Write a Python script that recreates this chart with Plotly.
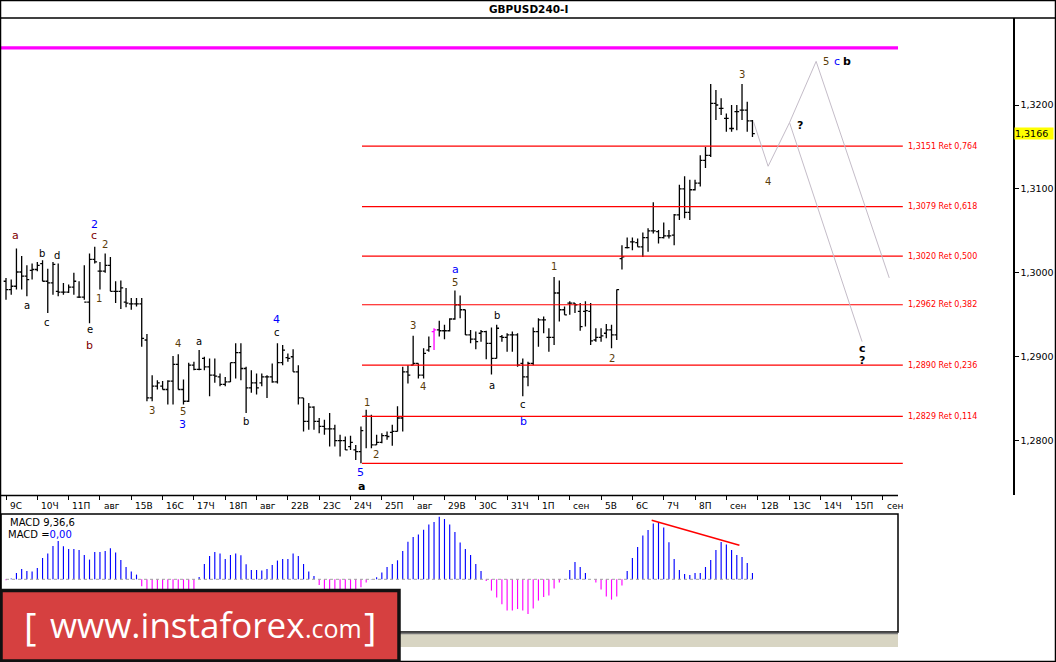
import plotly.graph_objects as go

W, H = 1056, 662

title_text = "GBPUSD240-I"
day_labels = ["9С", "10Ч", "11П", "авг", "15В", "16С", "17Ч", "18П", "авг", "22В", "23С", "24Ч",
              "25П", "авг", "29В", "30С", "31Ч", "1П", "сен", "5В", "6С", "7Ч", "8П", "сен",
              "12В", "13С", "14Ч", "15П", "сен"]
BARS_PER_DAY = 6

bar_open = [
    1.2990, 1.2980, 1.2984, 1.3001, 1.2996, 1.3003, 1.3004, 1.3011, 1.2990, 1.2988,
    1.2978, 1.2977, 1.2977, 1.2983, 1.2971, 1.2971, 1.2965, 1.3016, 1.3002, 1.3002,
    1.3009, 1.2978, 1.2978, 1.2965, 1.2963, 1.2963, 1.2963, 1.2920, 1.2851, 1.2865,
    1.2865, 1.2861, 1.2871, 1.2891, 1.2861, 1.2847, 1.2890, 1.2885, 1.2898, 1.2888,
    1.2878, 1.2876, 1.2867, 1.2870, 1.2893, 1.2905, 1.2886, 1.2863, 1.2869, 1.2869,
    1.2876, 1.2876, 1.2870, 1.2893, 1.2899, 1.2900, 1.2882, 1.2851, 1.2823, 1.2840,
    1.2823, 1.2817, 1.2814, 1.2814, 1.2800, 1.2800, 1.2793, 1.2789, 1.2787, 1.2829,
    1.2829, 1.2795, 1.2798, 1.2806, 1.2810, 1.2811, 1.2827, 1.2882, 1.2890, 1.2892,
    1.2878, 1.2908, 1.2930, 1.2932, 1.2931, 1.2931, 1.2945, 1.2962, 1.2956, 1.2926,
    1.2921, 1.2928, 1.2930, 1.2916, 1.2898, 1.2924, 1.2923, 1.2926, 1.2926, 1.2892,
    1.2876, 1.2892, 1.2930, 1.2944, 1.2923, 1.2923, 1.2976, 1.2956, 1.2964, 1.2964,
    1.2954, 1.2954, 1.2954, 1.2920, 1.2923, 1.2928, 1.2932, 1.2926, 1.3017, 1.3030,
    1.3037, 1.3036, 1.3031, 1.3042, 1.3050, 1.3049, 1.3042, 1.3044, 1.3045, 1.3069,
    1.3100, 1.3072, 1.3099, 1.3107, 1.3134, 1.3140, 1.3202, 1.3196, 1.3184, 1.3172,
    1.3192, 1.3194, 1.3194, 1.3181]
bar_high = [
    1.2994, 1.2992, 1.3029, 1.3020, 1.3009, 1.3011, 1.3013, 1.3015, 1.3005, 1.3013,
    1.3011, 1.2988, 1.2986, 1.3000, 1.2990, 1.3009, 1.3023, 1.3031, 1.3013, 1.3023,
    1.3019, 1.2990, 1.2991, 1.2982, 1.2970, 1.2970, 1.2970, 1.2927, 1.2878, 1.2872,
    1.2871, 1.2872, 1.2901, 1.2903, 1.2873, 1.2893, 1.2894, 1.2908, 1.2900, 1.2898,
    1.2898, 1.2880, 1.2876, 1.2893, 1.2916, 1.2916, 1.2888, 1.2884, 1.2880, 1.2880,
    1.2878, 1.2892, 1.2916, 1.2914, 1.2904, 1.2909, 1.2890, 1.2851, 1.2845, 1.2841,
    1.2827, 1.2825, 1.2833, 1.2819, 1.2807, 1.2805, 1.2806, 1.2795, 1.2817, 1.2837,
    1.2831, 1.2807, 1.2809, 1.2811, 1.2819, 1.2841, 1.2888, 1.2890, 1.2925, 1.2892,
    1.2910, 1.2924, 1.2934, 1.2943, 1.2938, 1.2946, 1.2979, 1.2973, 1.2956, 1.2932,
    1.2930, 1.2932, 1.2931, 1.2935, 1.2938, 1.2926, 1.2928, 1.2930, 1.2928, 1.2898,
    1.2894, 1.2935, 1.2946, 1.2948, 1.2934, 1.2995, 1.2991, 1.2960, 1.2966, 1.2964,
    1.2964, 1.2966, 1.2964, 1.2934, 1.2934, 1.2939, 1.2938, 1.2980, 1.3033, 1.3042,
    1.3042, 1.3041, 1.3048, 1.3053, 1.3084, 1.3051, 1.3060, 1.3051, 1.3070, 1.3105,
    1.3115, 1.3111, 1.3111, 1.3140, 1.3150, 1.3225, 1.3218, 1.3208, 1.3190, 1.3200,
    1.3200, 1.3225, 1.3204, 1.3182]
bar_low = [
    1.2968, 1.2974, 1.2980, 1.2980, 1.2972, 1.2992, 1.3002, 1.2990, 1.2952, 1.2974,
    1.2972, 1.2974, 1.2976, 1.2974, 1.2970, 1.2968, 1.2940, 1.3011, 1.2980, 1.3000,
    1.2978, 1.2964, 1.2957, 1.2959, 1.2956, 1.2960, 1.2912, 1.2847, 1.2847, 1.2861,
    1.2861, 1.2843, 1.2843, 1.2861, 1.2843, 1.2846, 1.2884, 1.2884, 1.2884, 1.2853,
    1.2869, 1.2865, 1.2865, 1.2870, 1.2874, 1.2872, 1.2833, 1.2857, 1.2855, 1.2865,
    1.2851, 1.2869, 1.2868, 1.2890, 1.2894, 1.2882, 1.2843, 1.2811, 1.2813, 1.2813,
    1.2809, 1.2807, 1.2793, 1.2793, 1.2781, 1.2789, 1.2789, 1.2777, 1.2773, 1.2791,
    1.2791, 1.2795, 1.2797, 1.2801, 1.2794, 1.2811, 1.2811, 1.2868, 1.2890, 1.2874,
    1.2874, 1.2906, 1.2908, 1.2924, 1.2921, 1.2930, 1.2944, 1.2946, 1.2926, 1.2916,
    1.2909, 1.2918, 1.2897, 1.2879, 1.2898, 1.2918, 1.2906, 1.2906, 1.2888, 1.2853,
    1.2865, 1.2890, 1.2912, 1.2928, 1.2906, 1.2914, 1.2942, 1.2950, 1.2950, 1.2952,
    1.2931, 1.2936, 1.2914, 1.2918, 1.2918, 1.2922, 1.2910, 1.2920, 1.3004, 1.3029,
    1.3027, 1.3031, 1.3019, 1.3025, 1.3047, 1.3035, 1.3041, 1.3041, 1.3033, 1.3063,
    1.3065, 1.3063, 1.3098, 1.3103, 1.3125, 1.3138, 1.3182, 1.3188, 1.3168, 1.3168,
    1.3170, 1.3182, 1.3168, 1.3162]
bar_close = [
    1.2980, 1.2984, 1.3001, 1.2996, 1.2992, 1.3004, 1.3009, 1.2990, 1.2988, 1.3010,
    1.2977, 1.2977, 1.2983, 1.2990, 1.2971, 1.2965, 1.3016, 1.3013, 1.3002, 1.3009,
    1.2978, 1.2978, 1.2982, 1.2964, 1.2963, 1.2963, 1.2922, 1.2851, 1.2865, 1.2869,
    1.2861, 1.2871, 1.2891, 1.2861, 1.2847, 1.2890, 1.2885, 1.2885, 1.2888, 1.2878,
    1.2877, 1.2867, 1.2870, 1.2893, 1.2905, 1.2886, 1.2863, 1.2869, 1.2863, 1.2876,
    1.2876, 1.2870, 1.2893, 1.2908, 1.2898, 1.2882, 1.2851, 1.2823, 1.2840, 1.2823,
    1.2817, 1.2814, 1.2814, 1.2800, 1.2800, 1.2789, 1.2798, 1.2787, 1.2812, 1.2829,
    1.2795, 1.2798, 1.2806, 1.2805, 1.2811, 1.2827, 1.2882, 1.2878, 1.2892, 1.2878,
    1.2904, 1.2912, 1.2932, 1.2931, 1.2931, 1.2945, 1.2962, 1.2956, 1.2926, 1.2921,
    1.2918, 1.2930, 1.2916, 1.2898, 1.2934, 1.2923, 1.2926, 1.2926, 1.2890, 1.2876,
    1.2892, 1.2930, 1.2944, 1.2944, 1.2923, 1.2976, 1.2956, 1.2950, 1.2964, 1.2962,
    1.2936, 1.2955, 1.2919, 1.2923, 1.2925, 1.2932, 1.2926, 1.2980, 1.3019, 1.3030,
    1.3037, 1.3031, 1.3042, 1.3050, 1.3050, 1.3042, 1.3044, 1.3044, 1.3069, 1.3100,
    1.3072, 1.3099, 1.3107, 1.3134, 1.3140, 1.3202, 1.3200, 1.3196, 1.3184, 1.3172,
    1.3192, 1.3194, 1.3181, 1.3166]
highlighted_bars = [82]

macd_hist = [
    -1.0, 0.7, 6.3, 10.3, 8.3, 7.7, 11.3, 21.3, 25.7, 33.3,
    38.3, 33.0, 30.3, 30.3, 29.3, 24.3, 19.7, 27.3, 27.3, 28.3,
    31.0, 26.7, 19.3, 12.3, 7.7, 4.7, -7.0, -12.0, -16.0, -19.0,
    -21.0, -21.0, -19.0, -18.0, -17.0, -14.0, -10.0, 2.3, 15.3, 23.3,
    27.3, 25.7, 20.3, 24.3, 25.7, 24.0, 15.0, 9.3, 9.3, 8.7,
    10.3, 14.3, 18.7, 20.3, 20.3, 25.7, 23.3, 15.3, 7.7, 3.3,
    -5.7, -11.0, -14.0, -16.0, -16.0, -15.0, -13.0, -11.0, -8.0, -3.3,
    0.3, 2.0, 6.7, 12.3, 15.3, 19.0, 28.3, 37.5, 42.3, 44.7,
    49.5, 54.7, 57.3, 62.5, 60.3, 54.7, 47.3, 36.7, 30.3, 24.3,
    15.3, 8.3, -1.7, -11.3, -18.3, -25.0, -31.3, -31.3, -29.7, -31.3,
    -34.7, -29.3, -21.3, -17.7, -16.3, -9.3, -3.3, 0.0, 9.3, 17.3,
    12.3, 6.3, 0.0, -3.3, -10.3, -17.3, -20.3, -17.3, -6.3, 8.3,
    21.3, 32.3, 43.7, 49.3, 55.7, 57.3, 51.7, 37.0, 20.3, 9.3,
    5.3, 4.3, 6.3, 6.3, 12.3, 19.3, 29.3, 37.3, 34.7, 29.3,
    24.3, 22.3, 16.3, 6.3]
macd_trend_bars = [123.7, 140.5]
macd_trend_vals = [59.0, 34.0]

fib_ratios = [0.114, 0.236, 0.382, 0.500, 0.618, 0.764]
fib_prices = [1.2829, 1.2890, 1.2962, 1.3020, 1.3079, 1.3151]
fib_base_price = 1.2773
fib_start_bar = 68.2
fib_end_bar = 171.8
top_line_price = 1.3268
last_price = 1.3166
price_ticks = [1.2800, 1.2900, 1.3000, 1.3100, 1.3200]

proj_main_bars = [143.2, 146.0, 150.1, 155.2, 169.2]
proj_main_prices = [1.3180, 1.3127, 1.3179, 1.3252, 1.2994]
proj_alt_bars = [150.1, 164.0]
proj_alt_prices = [1.3179, 1.2918]

MAR, BLU, BLK, DRK = "#800000", "#0000ff", "#000000", "#5a3c0a"
wave_text = ["a", "c", "2", "2", "b", "d", "a", "c", "1", "e", "b", "4", "a", "3", "5", "3", "b",
             "4", "c", "5", "a", "1", "2", "3", "4", "a", "5", "b", "a", "c", "b", "1", "2", "3",
             "4", "?", "5", "c", "b", "c", "?"]
wave_bar = [1.9, 16.9, 16.9, 19.0, 6.95, 9.8, 4.0, 7.9, 17.9, 16.0, 16.0, 33.0, 37.0, 28.0, 33.9,
            33.85, 46.0, 51.9, 52.0, 68.0, 68.1, 69.1, 70.9, 78.0, 79.8, 86.1, 86.1, 94.1, 93.1,
            99.1, 99.1, 105.0, 116.1, 141.05, 146.0, 152.1, 157.1, 159.1, 161.2, 164.0, 164.0]
wave_price = [1.3044, 1.3044, 1.3058, 1.3034, 1.3023, 1.3021, 1.2961, 1.2941, 1.2969, 1.2932,
              1.2914, 1.2916, 1.2918, 1.2836, 1.2835, 1.2819, 1.2823, 1.2945, 1.2929, 1.2762,
              1.2746, 1.2845, 1.2783, 1.2937, 1.2864, 1.3004, 1.2989, 1.2949, 1.2866, 1.2843,
              1.2823, 1.3008, 1.2898, 1.3236, 1.3109, 1.3176, 1.3252, 1.3252, 1.3252, 1.2910,
              1.2896]
wave_color = [MAR, MAR, BLU, DRK, BLK, BLK, BLK, BLK, DRK, BLK, MAR, DRK, BLK, DRK, DRK, BLU, BLK,
              BLU, BLK, BLU, BLK, DRK, DRK, DRK, DRK, BLU, DRK, BLK, BLK, BLK, BLU, DRK, DRK, DRK,
              DRK, BLK, DRK, BLU, BLK, BLK, BLK]
wave_bold = [t in ("?",) for t in wave_text]
wave_bold[20] = True
wave_bold[38] = True
wave_bold[39] = True

# ---------------- layout helpers (pixel -> paper) ----------------
def px(x):
    return x / W


def py(y):
    return 1 - y / H


BAR0_PX, BAR_PX = 6.0, 5.22
PRICE_LEFT, PRICE_RIGHT, PRICE_TOP, PRICE_BOTTOM = 1, 1013, 18, 495
MACD_RIGHT, MACD_TOP, MACD_BOTTOM, MACD_ZERO = 898, 514, 632, 579.3
PX_PER_UNIT = 8392.0


def bar_at(pxx):
    return (pxx - BAR0_PX) / BAR_PX


def price_at(pyy):
    return 1.32 - (pyy - 105) / PX_PER_UNIT


FONT = "DejaVu Sans"
n = len(bar_open)
idx = list(range(n))

fig = go.Figure()

# main OHLC bars
main_idx = [i for i in idx if i not in highlighted_bars]
fig.add_trace(go.Ohlc(
    x=main_idx,
    open=[bar_open[i] for i in main_idx], high=[bar_high[i] for i in main_idx],
    low=[bar_low[i] for i in main_idx], close=[bar_close[i] for i in main_idx],
    increasing=dict(line=dict(color="black")), decreasing=dict(line=dict(color="black")),
    line=dict(width=1.3), tickwidth=0.45, xaxis="x", yaxis="y", hoverinfo="skip"))
for hb in highlighted_bars:
    xs = [hb - 1, hb, hb + 1]
    fig.add_trace(go.Ohlc(
        x=xs, open=[None, bar_open[hb], None], high=[None, bar_high[hb], None],
        low=[None, bar_low[hb], None], close=[None, bar_close[hb], None],
        increasing=dict(line=dict(color="#ff00ff")), decreasing=dict(line=dict(color="#ff00ff")),
        line=dict(width=1.3), tickwidth=0.45, xaxis="x", yaxis="y", hoverinfo="skip"))

# top magenta line
fig.add_trace(go.Scatter(x=[bar_at(PRICE_LEFT), bar_at(MACD_RIGHT)], y=[top_line_price] * 2,
                         mode="lines", line=dict(color="#ff00ff", width=3.2),
                         xaxis="x", yaxis="y", hoverinfo="skip"))

# fib lines
for lvl in [fib_base_price] + fib_prices:
    fig.add_trace(go.Scatter(x=[fib_start_bar, fib_end_bar], y=[lvl, lvl], mode="lines",
                             line=dict(color="#ff0000", width=1.2), xaxis="x", yaxis="y",
                             hoverinfo="skip"))

# projection paths
fig.add_trace(go.Scatter(x=proj_main_bars, y=proj_main_prices, mode="lines",
                         line=dict(color="#c4bcc8", width=1), xaxis="x", yaxis="y",
                         hoverinfo="skip"))
fig.add_trace(go.Scatter(x=proj_alt_bars, y=proj_alt_prices, mode="lines",
                         line=dict(color="#c4bcc8", width=1), xaxis="x", yaxis="y",
                         hoverinfo="skip"))

# MACD histogram
fig.add_trace(go.Bar(x=idx, y=macd_hist,
                     marker=dict(color=["#0000ff" if v >= 0 else "#ff00ff" for v in macd_hist],
                                 line=dict(width=0)),
                     width=0.22, xaxis="x2", yaxis="y2", hoverinfo="skip"))
fig.add_trace(go.Scatter(x=[0, n - 1], y=[0, 0], mode="lines",
                         line=dict(color="#a0a0a0", width=1, dash="dot"),
                         xaxis="x2", yaxis="y2", hoverinfo="skip"))
fig.add_trace(go.Scatter(x=macd_trend_bars, y=macd_trend_vals, mode="lines",
                         line=dict(color="#ff0000", width=1.5), xaxis="x2", yaxis="y2",
                         hoverinfo="skip"))

shapes = []
# outer frame and title separator
shapes.append(dict(type="rect", xref="paper", yref="paper", x0=px(0.5), x1=px(W - 0.5),
                   y0=py(H - 0.5), y1=py(0.5), line=dict(color="black", width=1.5)))
shapes.append(dict(type="line", xref="paper", yref="paper", x0=0, x1=1,
                   y0=py(PRICE_TOP), y1=py(PRICE_TOP), line=dict(color="black", width=1.5)))
# bottom of price panel
shapes.append(dict(type="line", xref="paper", yref="paper", x0=px(PRICE_LEFT), x1=px(MACD_RIGHT),
                   y0=py(PRICE_BOTTOM + 0.5), y1=py(PRICE_BOTTOM + 0.5),
                   line=dict(color="black", width=1.5)))
# MACD panel frame
shapes.append(dict(type="rect", xref="paper", yref="paper", x0=px(PRICE_LEFT), x1=px(MACD_RIGHT),
                   y0=py(MACD_BOTTOM), y1=py(MACD_TOP), line=dict(color="black", width=1.5)))
# hatched strip below MACD
shapes.append(dict(type="rect", xref="paper", yref="paper", x0=px(PRICE_LEFT), x1=px(MACD_RIGHT),
                   y0=py(647), y1=py(633), fillcolor="#d8d5c3", line=dict(width=0), layer="below"))
shapes.append(dict(type="line", xref="paper", yref="paper", x0=px(PRICE_LEFT), x1=px(MACD_RIGHT),
                   y0=py(633.5), y1=py(633.5), line=dict(color="#777777", width=1.5)))
# logo banner
shapes.append(dict(type="rect", xref="paper", yref="paper", x0=px(1), x1=px(399),
                   y0=py(H - 1), y1=py(590.5), fillcolor="#d64040",
                   line=dict(color="#111111", width=3.5), layer="above"))

ann = []
ann.append(dict(text="<b>" + title_text + "</b>", xref="paper", yref="paper", x=px(528), y=py(9.5),
                showarrow=False, font=dict(family=FONT, size=10.5, color="black"),
                xanchor="center", yanchor="middle"))
for k, lab in enumerate(day_labels):
    ann.append(dict(text=lab, xref="x2", yref="paper", x=k * BARS_PER_DAY + 0.3, y=py(505.5),
                    showarrow=False, font=dict(family=FONT, size=9, color="black"),
                    xanchor="left", yanchor="middle"))
for r, lvl in zip(fib_ratios, fib_prices):
    t = ("%.4f Ret %.3f" % (lvl, r)).replace(".", ",")
    ann.append(dict(text=t, xref="x", yref="y", x=bar_at(906), y=lvl, showarrow=False,
                    font=dict(family=FONT, size=8, color="#ff0000"), xanchor="left",
                    yanchor="middle"))
ann.append(dict(text=("%.4f" % last_price).replace(".", ","), xref="paper", yref="y",
                x=px(1014), y=last_price, showarrow=False, bgcolor="#ffff00", width=38,
                height=11, align="left", font=dict(family=FONT, size=9.5, color="black"),
                xanchor="left", yanchor="middle", borderpad=0))
ann.append(dict(text="MACD 9,36,6", xref="paper", yref="paper", x=px(8), y=py(522),
                showarrow=False, font=dict(family=FONT, size=10, color="black"),
                xanchor="left", yanchor="middle"))
ann.append(dict(text="MACD =<span style='color:#0000ff'>0,00</span>", xref="paper", yref="paper",
                x=px(6), y=py(534.5), showarrow=False,
                font=dict(family=FONT, size=10, color="black"), xanchor="left", yanchor="middle"))
for t, b, p, c, bold in zip(wave_text, wave_bar, wave_price, wave_color, wave_bold):
    size = 11 if (bold or c == BLU or c == MAR) else 10
    ann.append(dict(text=("<b>%s</b>" % t) if bold else t, xref="x", yref="y", x=b, y=p,
                    showarrow=False, font=dict(family=FONT, size=size, color=c),
                    xanchor="center", yanchor="middle"))
# logo text
LOGO_FONT = "Open Sans"
ann.append(dict(text="[", xref="paper", yref="paper", x=px(22), y=py(626), showarrow=False,
                font=dict(family=LOGO_FONT, size=38, color="white"), xanchor="left",
                yanchor="middle"))
ann.append(dict(text="www.instaforex", xref="paper", yref="paper", x=px(48), y=py(624),
                showarrow=False, font=dict(family=LOGO_FONT, size=35, color="white"),
                xanchor="left", yanchor="middle"))
ann.append(dict(text=".com", xref="paper", yref="paper", x=px(303), y=py(628), showarrow=False,
                font=dict(family=LOGO_FONT, size=25, color="white"), xanchor="left",
                yanchor="middle"))
ann.append(dict(text="]", xref="paper", yref="paper", x=px(362), y=py(626), showarrow=False,
                font=dict(family=LOGO_FONT, size=38, color="white"), xanchor="left",
                yanchor="middle"))

fig.update_layout(
    width=W, height=H, autosize=False, margin=dict(l=0, r=0, t=0, b=0, pad=0),
    paper_bgcolor="white", plot_bgcolor="white", showlegend=False, hovermode=False,
    barmode="overlay",
    xaxis=dict(domain=[px(PRICE_LEFT), px(PRICE_RIGHT)],
               range=[bar_at(PRICE_LEFT), bar_at(PRICE_RIGHT)],
               tickvals=[k * BARS_PER_DAY for k in range(len(day_labels))],
               ticks="outside", ticklen=4, tickcolor="black", tickwidth=1,
               showticklabels=False, showgrid=False, zeroline=False, showline=False,
               rangeslider=dict(visible=False), anchor="y", fixedrange=True),
    yaxis=dict(domain=[py(PRICE_BOTTOM), py(PRICE_TOP)],
               range=[price_at(PRICE_BOTTOM), price_at(PRICE_TOP)], side="right",
               tickvals=price_ticks,
               ticktext=[("%.4f" % v).replace(".", ",") for v in price_ticks],
               ticks="outside", ticklen=4, tickcolor="black", showline=True,
               linecolor="black", linewidth=1.5, showgrid=False, zeroline=False,
               tickfont=dict(family=FONT, size=9.5, color="black"), anchor="x",
               fixedrange=True),
    xaxis2=dict(domain=[px(PRICE_LEFT), px(MACD_RIGHT)],
                range=[bar_at(PRICE_LEFT), bar_at(MACD_RIGHT)], visible=False,
                anchor="y2", fixedrange=True),
    yaxis2=dict(domain=[py(MACD_BOTTOM), py(MACD_TOP)],
                range=[MACD_ZERO - MACD_BOTTOM, MACD_ZERO - MACD_TOP], visible=False,
                anchor="x2", fixedrange=True),
    shapes=shapes, annotations=ann,
)

fig.write_html(
    "out.html",
    config={"displayModeBar": False, "staticPlot": True},
    post_script="document.body.style.margin='0';document.body.style.overflow='hidden';",
)
